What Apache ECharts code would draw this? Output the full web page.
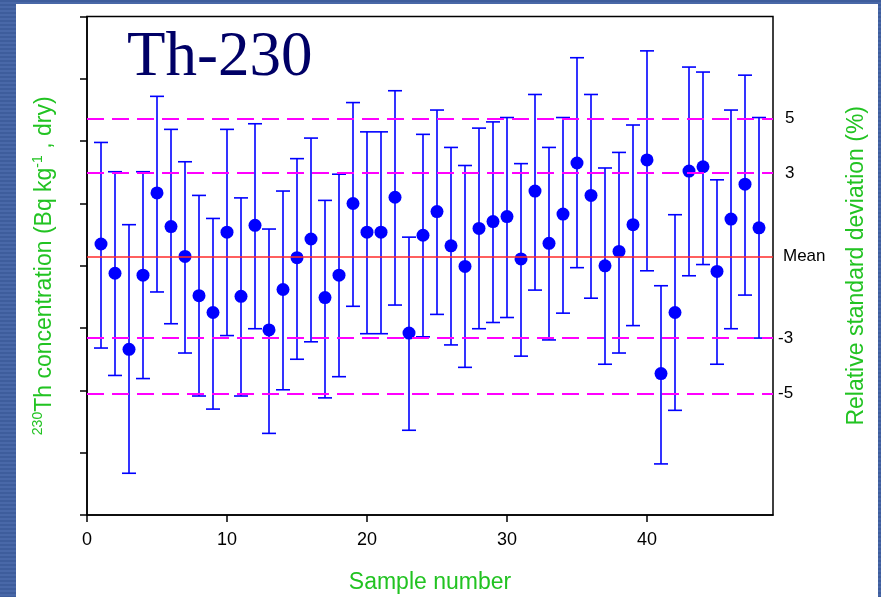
<!DOCTYPE html>
<html>
<head>
<meta charset="utf-8">
<script src="https://cdn.jsdelivr.net/npm/echarts@6/dist/echarts.min.js"></script>
<style>
  html, body { margin: 0; padding: 0; }
  #bg { position: absolute; left: 0; top: 0; width: 881px; height: 597px;
        background: repeating-linear-gradient(to bottom, #3e5d9c 0px, #3e5d9c 2px, #4968a8 2px, #4968a8 4px); }
  #panel { position: absolute; left: 16px; top: 4px; width: 862px; height: 593px; background: #ffffff; }
  #chart { position: absolute; left: 0; top: 0; width: 881px; height: 597px; }
</style>
</head>
<body>
<div id="bg"></div>
<div id="panel"></div>
<div id="chart"></div>
<script>
// ---- data ----
const sampleNumbers = [1,2,3,4,5,6,7,8,9,10,11,12,13,14,15,16,17,18,19,20,21,22,23,24,25,26,27,28,29,30,31,32,33,34,35,36,37,38,39,40,41,42,43,44,45,46,47,48];
const concentration = [4.35,3.88,2.66,3.85,5.17,4.63,4.15,3.52,3.25,4.54,3.51,4.65,2.97,3.62,4.13,4.43,3.49,3.85,5.00,4.54,4.54,5.10,2.92,4.49,4.87,4.32,3.99,4.60,4.71,4.79,4.11,5.20,4.36,4.83,5.65,5.13,4.00,4.23,4.66,5.70,2.27,3.25,5.52,5.59,3.91,4.75,5.31,4.61];
const errorLow = [2.68,2.24,0.67,2.19,3.58,3.07,2.60,1.91,1.70,2.88,1.91,2.99,1.31,2.01,2.50,2.78,1.88,2.22,3.35,2.91,2.91,3.37,1.36,2.86,3.22,2.73,2.37,2.99,3.09,3.17,2.55,3.61,2.81,3.24,3.97,3.48,2.42,2.60,3.04,3.92,0.82,1.68,3.84,4.02,2.42,2.99,3.53,2.84];
const errorHigh = [5.98,5.51,4.66,5.51,6.72,6.19,5.67,5.13,4.76,6.19,5.09,6.28,4.59,5.20,5.72,6.05,5.05,5.47,6.62,6.15,6.15,6.81,4.46,6.11,6.50,5.90,5.61,6.21,6.31,6.38,5.64,6.75,5.90,6.38,7.34,6.75,5.57,5.82,6.26,7.45,3.68,4.82,7.19,7.11,5.38,6.50,7.06,6.38];
const meanValue = 4.146;
const rsdLevels = [6.36, 5.485, 2.836, 1.953];
const rsdLabels = ['5', '3', '-3', '-5'];
const xTickValues = [0, 10, 20, 30, 40];

// ---- build ----
const pointData = sampleNumbers.map((s, i) => [s, concentration[i]]);
const barData = sampleNumbers.map((s, i) => [s, errorLow[i], errorHigh[i]]);

const GREEN = '#22c322';
const BLUE = '#0000ff';
const FONT = "'Liberation Sans', Arial, sans-serif";

const rsdLineItems = rsdLevels.map((v, i) => ({
  yAxis: v,
  lineStyle: { color: '#ff00ff', width: 2, type: [17, 8] },
  label: {
    show: true, position: 'end', formatter: rsdLabels[i],
    distance: rsdLabels[i].length === 1 ? 12 : 5,
    color: '#000', fontSize: 17, fontFamily: FONT
  }
}));
const meanItem = {
  yAxis: meanValue,
  lineStyle: { color: '#ff2a2a', width: 1.7, type: 'solid' },
  label: { show: true, position: 'end', formatter: 'Mean', distance: 10, color: '#000', fontSize: 17, fontFamily: FONT }
};

const chart = echarts.init(document.getElementById('chart'), null, { renderer: 'canvas' });
chart.setOption({
  backgroundColor: 'transparent',
  animation: false,
  title: {
    text: 'Th-230', left: 122, top: 22,
    textStyle: { fontFamily: "'Liberation Serif', 'Times New Roman', serif", fontSize: 63, fontWeight: 'normal', color: '#000066' }
  },
  grid: { left: 87, right: 108, top: 16.6, bottom: 82, show: true, borderColor: '#000', borderWidth: 1.5,
          backgroundColor: 'transparent', containLabel: false, outerBoundsMode: 'none' },
  xAxis: {
    type: 'value', min: 0, max: 49, interval: 10,
    name: 'Sample number', nameLocation: 'middle', nameGap: 56,
    nameTextStyle: { color: GREEN, fontSize: 23, fontFamily: FONT },
    axisLine: { show: true, lineStyle: { color: '#000', width: 1.5 } },
    axisTick: { show: true, length: 7, inside: false, customValues: xTickValues, lineStyle: { color: '#000', width: 1.5 } },
    axisLabel: { show: true, margin: 16, customValues: xTickValues, color: '#000', fontSize: 18,
                 fontFamily: "'Liberation Sans Narrow', 'Arial Narrow', 'Liberation Sans', sans-serif" },
    splitLine: { show: false }
  },
  yAxis: [
    {
      type: 'value', min: 0, max: 8, interval: 1, position: 'left',
      name: '{sup|230}{m|Th concentration (Bq kg}{sup|-1}{m| , dry)}',
      nameLocation: 'middle', nameGap: 29, nameRotate: 90,
      nameTextStyle: {
        color: GREEN, fontSize: 23, fontFamily: FONT,
        rich: {
          m: { color: GREEN, fontSize: 23, fontFamily: FONT, lineHeight: 27 },
          sup: { color: GREEN, fontSize: 14, fontFamily: FONT, lineHeight: 14, verticalAlign: 'top' }
        }
      },
      axisLine: { show: true, lineStyle: { color: '#000', width: 1.5 } },
      axisTick: { show: true, length: 7, inside: false, lineStyle: { color: '#000', width: 1.5 } },
      axisLabel: { show: false },
      splitLine: { show: false }
    },
    {
      type: 'value', min: 0, max: 8, interval: 1, position: 'right',
      name: 'Relative standard deviation (%)',
      nameLocation: 'middle', nameGap: 72, nameRotate: 90,
      nameTextStyle: { color: GREEN, fontSize: 23, fontFamily: FONT },
      axisLine: { show: false }, axisTick: { show: false }, axisLabel: { show: false }, splitLine: { show: false }
    }
  ],
  series: [
    {
      type: 'custom', name: 'error', z: 2,
      data: barData,
      encode: { x: 0, y: [1, 2] },
      renderItem: function (params, api) {
        const x = api.value(0);
        const pLo = api.coord([x, api.value(1)]);
        const pHi = api.coord([x, api.value(2)]);
        const hw = 7;
        const st = { stroke: BLUE, lineWidth: 1.6 };
        return {
          type: 'group',
          children: [
            { type: 'line', shape: { x1: pLo[0], y1: pLo[1], x2: pHi[0], y2: pHi[1] }, style: st },
            { type: 'line', shape: { x1: pHi[0] - hw, y1: pHi[1], x2: pHi[0] + hw, y2: pHi[1] }, style: st },
            { type: 'line', shape: { x1: pLo[0] - hw, y1: pLo[1], x2: pLo[0] + hw, y2: pLo[1] }, style: st }
          ]
        };
      }
    },
    {
      type: 'scatter', name: 'concentration', z: 3,
      data: pointData, symbol: 'circle', symbolSize: 13,
      itemStyle: { color: BLUE, opacity: 1 }
    },
    {
      type: 'line', name: 'ref', z: 5, data: [],
      markLine: {
        silent: true, symbol: ['none', 'none'], animation: false,
        data: rsdLineItems.concat([meanItem])
      }
    }
  ]
});
</script>
</body>
</html>
